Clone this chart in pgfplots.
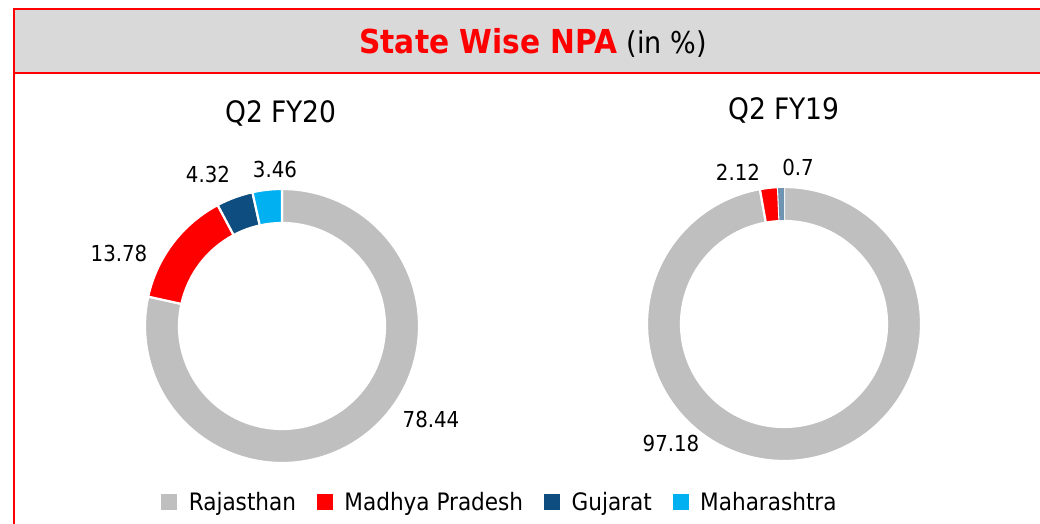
\documentclass[border=0pt]{standalone}
\usepackage{pgfplots}
\usepackage{pgfplotstable}
\pgfplotsset{compat=1.18}
\usepackage{fontspec}
\setmainfont{DejaVu Sans Condensed}
\definecolor{rajgray}{HTML}{BFBFBF}
\definecolor{mpred}{HTML}{FF0000}
\definecolor{gujblue}{HTML}{0E4D7F}
\definecolor{mahcyan}{HTML}{00B0F0}
\definecolor{bandgray}{HTML}{D9D9D9}

\pgfplotstableread{
state value
Rajasthan 78.44
MadhyaPradesh 13.78
Gujarat 4.32
Maharashtra 3.46
}\fytwenty
\pgfplotstableread{
state value
Rajasthan 97.18
MadhyaPradesh 2.12
Gujarat 0.7
Maharashtra 0
}\fynineteen

% segment angles, clockwise from 12 o'clock
\newcommand\getangle[4]{% table, row, previous angle, new macro
  \pgfplotstablegetelem{#2}{value}\of#1%
  \pgfmathsetmacro#4{#3-3.6*\pgfplotsretval}}
\def\Aa{90}
\getangle{\fytwenty}{0}{\Aa}{\Ab}
\getangle{\fytwenty}{1}{\Ab}{\Ac}
\getangle{\fytwenty}{2}{\Ac}{\Ad}
\getangle{\fytwenty}{3}{\Ad}{\Ae}
\def\Ba{90}
\getangle{\fynineteen}{0}{\Ba}{\Bb}
\getangle{\fynineteen}{1}{\Bb}{\Bc}
\getangle{\fynineteen}{2}{\Bc}{\Bd}
\getangle{\fynineteen}{3}{\Bd}{\Be}

\newcommand\seg[5]{% cx cy a1 a2 colour
  \fill[#5, draw=white, line width=2.2pt, line join=miter]
    (axis cs:{#1+137*cos(#3)},{#2+137*sin(#3)})
    arc[start angle=#3, end angle=#4, radius=137pt]
    -- (axis cs:{#1+103*cos(#4)},{#2+103*sin(#4)})
    arc[start angle=#4, end angle=#3, radius=103pt] -- cycle;}

\begin{document}
\begin{tikzpicture}
\begin{axis}[
  name=ax,
  width=1040pt, height=524pt, scale only axis,
  xmin=0, xmax=1040, ymin=0, ymax=524,
  hide axis, clip=true,
  legend style={at={(axis cs:500,22)}, anchor=center, draw=none, fill=none,
    legend columns=4, font=\fontsize{24}{27}\selectfont,
    /tikz/every even column/.append style={column sep=19pt},
    /tikz/every odd column/.append style={column sep=10pt},
    legend cell align=left},
]
% frame and title band
\fill[bandgray] (axis cs:14,515) rectangle (axis cs:1045,451);
\draw[mpred, line width=2pt] (axis cs:1045,515) -- (axis cs:14,515) -- (axis cs:14,-5);
\draw[mpred, line width=2pt] (axis cs:14,451) -- (axis cs:1045,451);
\node[anchor=base] at (axis cs:533,470) {\fontsize{33}{40}\selectfont\textcolor{mpred}{\bfseries State Wise NPA} \fontsize{30}{34}\selectfont(in \%)};

% Q2 FY20 donut
\seg{282}{198}{\Aa}{\Ab}{rajgray}
\seg{282}{198}{\Ab}{\Ac}{mpred}
\seg{282}{198}{\Ac}{\Ad}{gujblue}
\seg{282}{198}{\Ad}{\Ae}{mahcyan}
% Q2 FY19 donut
\seg{784}{200}{\Ba}{\Bb}{rajgray}
\seg{784}{200}{\Bb}{\Bc}{mpred}
\fill[gujblue!60!white] (axis cs:{784+136*cos(\Bc)},{200+136*sin(\Bc)}) -- (axis cs:{784+136*cos(\Bd)},{200+136*sin(\Bd)}) -- (axis cs:{784+104*cos(\Bd)},{200+104*sin(\Bd)}) -- (axis cs:{784+104*cos(\Bc)},{200+104*sin(\Bc)}) -- cycle;

% titles
\node at (axis cs:281,411) {\fontsize{29.5}{33}\selectfont Q2 FY20};
\node at (axis cs:784,414) {\fontsize{29.5}{33}\selectfont Q2 FY19};

% data labels
\begin{scope}[every node/.style={font=\fontsize{22}{24}\selectfont}]
\node at (axis cs:431,105) {78.44};
\node at (axis cs:119,271) {13.78};
\node at (axis cs:208,350) {4.32};
\node at (axis cs:275,355) {3.46};
\node at (axis cs:738,352) {2.12};
\node at (axis cs:798,357) {0.7};
\node at (axis cs:671,81) {97.18};
\end{scope}

\addlegendimage{legend image code/.code={\fill[rajgray] (0pt,-7pt) rectangle (15pt,8pt);}}
\addlegendentry{Rajasthan}
\addlegendimage{legend image code/.code={\fill[mpred] (0pt,-7pt) rectangle (15pt,8pt);}}
\addlegendentry{Madhya Pradesh}
\addlegendimage{legend image code/.code={\fill[gujblue] (0pt,-7pt) rectangle (15pt,8pt);}}
\addlegendentry{Gujarat}
\addlegendimage{legend image code/.code={\fill[mahcyan] (0pt,-7pt) rectangle (15pt,8pt);}}
\addlegendentry{Maharashtra}
\end{axis}
\pgfresetboundingbox
\path[use as bounding box] (ax.south west) rectangle (ax.north east);
\end{tikzpicture}
\end{document}
